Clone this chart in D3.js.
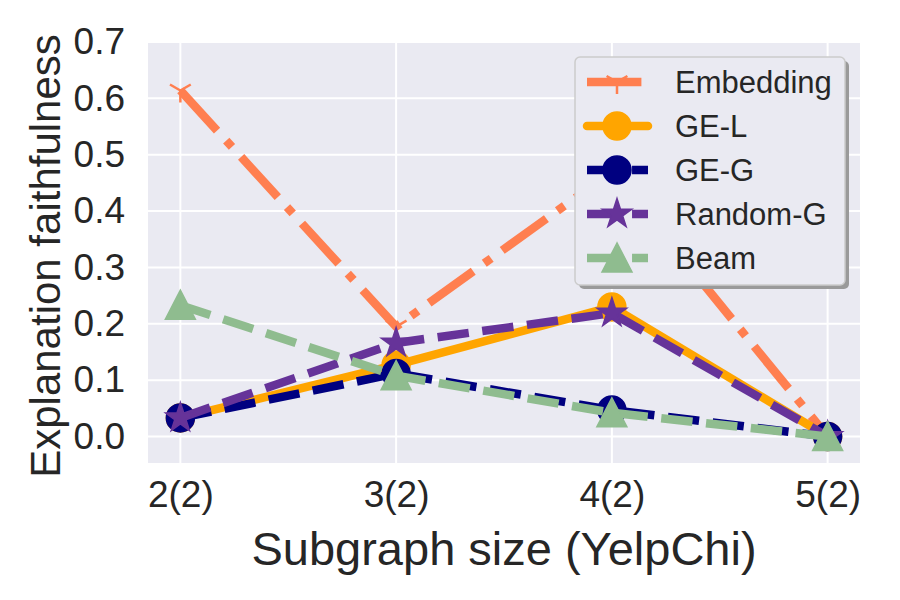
<!DOCTYPE html>
<html>
<head>
<meta charset="utf-8">
<script src="https://cdn.jsdelivr.net/npm/d3@7"></script>
<style>
  body { margin: 0; background: #fff; }
  svg text { font-family: "Liberation Sans", Arial, sans-serif; fill: #262626; }
</style>
</head>
<body>
<svg id="chart" width="900" height="600"></svg>
<script>
// data
const categories = ['2(2)', '3(2)', '4(2)', '5(2)'];
const embedding = [0.614, 0.195, 0.47, 0.0];
const geL = [0.033, 0.127, 0.23, 0.0];
const geG = [0.033, 0.112, 0.047, 0.0];
const randomG = [0.033, 0.166, 0.219, 0.0];
const beam = [0.233, 0.108, 0.042, 0.0];
const yTicks = [0.0, 0.1, 0.2, 0.3, 0.4, 0.5, 0.6, 0.7];

const lw = 8.5;
const series = [
  { name: 'Embedding', values: embedding, color: '#FF7F50', dash: [6.4 * lw, 1.6 * lw, 1 * lw, 1.6 * lw], marker: 'tri' },
  { name: 'GE-L', values: geL, color: '#FFA500', dash: null, marker: 'circle' },
  { name: 'GE-G', values: geG, color: '#000080', dash: [3.7 * lw, 1.6 * lw], marker: 'circle' },
  { name: 'Random-G', values: randomG, color: '#663399', dash: [3.7 * lw, 1.6 * lw], marker: 'star' },
  { name: 'Beam', values: beam, color: '#8FBC8F', dash: [3.7 * lw, 1.6 * lw], marker: 'triangle' }
];

const margin = { left: 148, right: 40, top: 42, bottom: 137 };
const width = 900, height = 600;
const innerWidth = width - margin.left - margin.right;
const innerHeight = height - margin.top - margin.bottom;

const svg = d3.select('#chart');
const g = svg.append('g').attr('transform', `translate(${margin.left},${margin.top})`);

const xScale = d3.scaleLinear().domain([-0.15, 3.15]).range([0, innerWidth]);
const yScale = d3.scaleLinear().domain([-0.047, 0.7]).range([innerHeight, 0]);

// background + grid
g.append('rect')
  .attr('width', innerWidth)
  .attr('height', innerHeight)
  .attr('fill', '#EAEAF2');

g.selectAll('.ygrid')
  .data(yTicks)
  .enter()
  .append('line')
  .attr('x1', 0).attr('x2', innerWidth)
  .attr('y1', d => yScale(d)).attr('y2', d => yScale(d))
  .attr('stroke', '#fff').attr('stroke-width', 2);

g.selectAll('.xgrid')
  .data(categories)
  .enter()
  .append('line')
  .attr('y1', 0).attr('y2', innerHeight)
  .attr('x1', (d, i) => xScale(i)).attr('x2', (d, i) => xScale(i))
  .attr('stroke', '#fff').attr('stroke-width', 2);

// axes (tick labels only, seaborn style)
const xAxis = d3.axisBottom(xScale)
  .tickValues(d3.range(categories.length))
  .tickFormat(i => categories[i])
  .tickSize(0).tickPadding(18);
g.append('g')
  .attr('transform', `translate(0,${innerHeight})`)
  .call(xAxis)
  .call(s => s.select('.domain').remove())
  .selectAll('text')
  .style('font-size', '37px');

const yAxis = d3.axisLeft(yScale)
  .tickValues(yTicks)
  .tickFormat(d3.format('.1f'))
  .tickSize(0).tickPadding(23);
g.append('g')
  .call(yAxis)
  .call(s => s.select('.domain').remove())
  .selectAll('text')
  .style('font-size', '37px');

// axis labels
svg.append('text')
  .attr('x', margin.left + innerWidth / 2)
  .attr('y', 565)
  .attr('text-anchor', 'middle')
  .style('font-size', '47px')
  .text('Subgraph size (YelpChi)');

svg.append('text')
  .attr('transform', 'rotate(-90)')
  .attr('x', -256)
  .attr('y', 60)
  .attr('text-anchor', 'middle')
  .style('font-size', '42px')
  .text('Explanation faithfulness');

// marker shapes
function markerPath(type) {
  const p = d3.path();
  if (type === 'circle') {
    p.arc(0, 0, 14, 0, 2 * Math.PI);
  } else if (type === 'triangle') {
    p.moveTo(0, -15); p.lineTo(-15, 14); p.lineTo(15, 14); p.closePath();
  } else if (type === 'star') {
    const R = 15.5, r = R * 0.381966;
    for (let k = 0; k < 10; k++) {
      const rad = k % 2 === 0 ? R : r;
      const a = -Math.PI / 2 + k * Math.PI / 5;
      if (k === 0) p.moveTo(rad * Math.cos(a), rad * Math.sin(a));
      else p.lineTo(rad * Math.cos(a), rad * Math.sin(a));
    }
    p.closePath();
  } else if (type === 'tri') {
    const a = 12;
    p.moveTo(0, 0); p.lineTo(0, a);
    p.moveTo(0, 0); p.lineTo(-a * 0.866, -a * 0.5);
    p.moveTo(0, 0); p.lineTo(a * 0.866, -a * 0.5);
  }
  return p.toString();
}

function drawMarker(sel, s) {
  sel.attr('d', markerPath(s.marker))
    .attr('fill', s.marker === 'tri' ? 'none' : s.color)
    .attr('stroke', s.color)
    .attr('stroke-width', s.marker === 'tri' ? 2.5 : 1.5);
}

const line = d3.line()
  .x((d, i) => xScale(i))
  .y(d => yScale(d));

series.forEach(s => {
  g.append('path')
    .datum(s.values)
    .attr('fill', 'none')
    .attr('stroke', s.color)
    .attr('stroke-width', lw)
    .attr('stroke-linecap', s.dash ? 'butt' : 'round')
    .attr('stroke-linejoin', 'round')
    .attr('stroke-dasharray', s.dash ? s.dash.join(',') : null)
    .attr('d', line);

  g.selectAll(null)
    .data(s.values)
    .enter()
    .append('path')
    .attr('transform', (d, i) => `translate(${xScale(i)},${yScale(d)})`)
    .call(drawMarker, s);
});

// legend
const lg = svg.append('g').attr('transform', 'translate(575,57)');
const lgW = 270, lgH = 228;
lg.append('rect')
  .attr('x', 4).attr('y', 4)
  .attr('width', lgW).attr('height', lgH)
  .attr('rx', 5)
  .attr('fill', '#9a9a9a');
lg.append('rect')
  .attr('width', lgW).attr('height', lgH)
  .attr('rx', 5)
  .attr('fill', '#EAEAF2')
  .attr('stroke', '#cccccc')
  .attr('stroke-width', 1.5);

series.forEach((s, i) => {
  const row = lg.append('g').attr('transform', `translate(0,${25 + i * 44})`);
  row.append('line')
    .attr('x1', 12).attr('x2', 73)
    .attr('stroke', s.color)
    .attr('stroke-width', lw)
    .attr('stroke-linecap', s.dash ? 'butt' : 'round')
    .attr('stroke-dasharray', s.dash ? s.dash.join(',') : null);
  row.append('path')
    .attr('transform', 'translate(42,0)')
    .call(drawMarker, s);
  row.append('text')
    .attr('x', 100)
    .attr('dy', '0.35em')
    .style('font-size', '31px')
    .text(s.name);
});
</script>
</body>
</html>
